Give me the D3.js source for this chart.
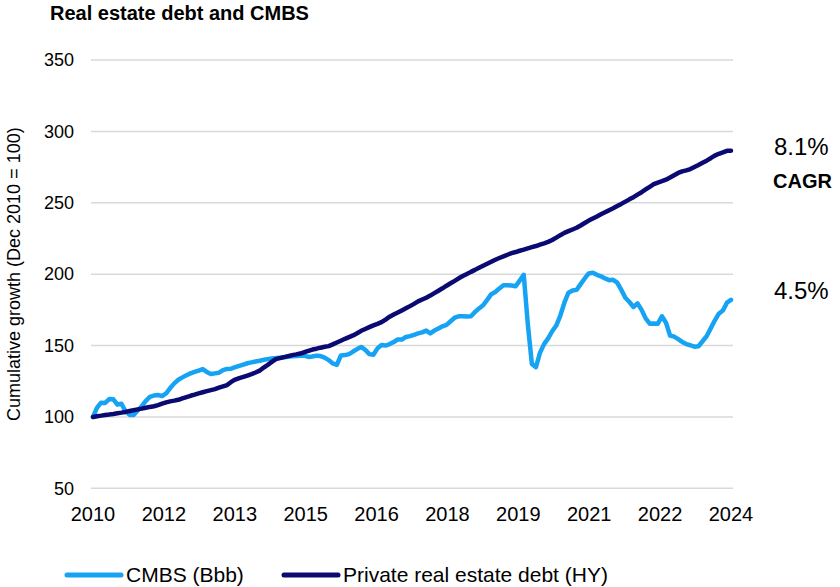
<!DOCTYPE html>
<html>
<head>
<meta charset="utf-8">
<script src="https://cdn.jsdelivr.net/npm/d3@7"></script>
<style>
  body { margin: 0; background: #fff; }
  svg text { font-family: "Liberation Sans", Arial, sans-serif; fill: #000; }
</style>
</head>
<body>
<div id="chart"></div>
<script>
// Month index since Dec 2010 (0..157), tick labels along the x axis
var tickLabels = ['2010', '2012', '2013', '2015', '2016', '2018', '2019', '2021', '2022', '2024'];
var yTicks     = [50, 100, 150, 200, 250, 300, 350];

var cmbs = [
  100, 106.5, 110, 109.8, 112.5, 112.3, 108.7, 109.2, 104, 101.4,
  101.4, 104.5, 107.5, 111.3, 114, 115, 115.4, 114.6, 116.5, 120.2,
  123.5, 126, 127.7, 129.2, 130.5, 131.5, 132.5, 133.5, 131.5, 130,
  130.5, 131, 132.8, 133.6, 133.8, 134.8, 135.8, 136.7, 137.6, 138.2,
  138.8, 139.3, 140, 140.5, 141, 141.2, 141.5, 141.8, 142.2, 142.5,
  142.6, 142.9, 142.9, 142, 142.3, 142.9, 142.6, 141.5, 139.8, 137.5,
  136.5, 143, 143.3, 144, 145.8, 147.5, 149, 147, 144, 143.5,
  148, 150.4, 150, 151, 152.5, 154.2, 154.2, 156, 156.6, 157.5,
  158.5, 159.2, 160.5, 158.5, 160.5, 162, 163.5, 164.5, 167, 169.5,
  170.5, 170.5, 170.3, 170.5, 173.5, 176, 178.2, 182, 186, 187.5,
  190, 192.3, 192.2, 192, 191.5, 195.5, 199.5, 165, 137, 134.8,
  145, 151, 155, 160, 164, 171, 180, 187, 188.5, 189,
  193, 197, 200.5, 201, 199.5, 198.5, 197, 195.8, 196, 194,
  189, 183.5, 180.5, 177, 179.5, 175, 169, 165.3, 165.5, 165.3,
  170.5, 166, 157, 156.2, 154.5, 152.5, 151, 150.2, 149.2, 149.5,
  153, 156.5, 162, 167.5, 172.3, 174.5, 180, 182
];

var privateDebt = [
  100, 100.5, 100.9, 101.4, 101.7, 102.1, 102.6, 103, 103.5, 104.1,
  104.7, 105.3, 105.8, 106.4, 107, 107.5, 108.3, 109.3, 110.2, 110.9,
  111.4, 112, 113, 113.9, 114.8, 115.6, 116.5, 117.3, 118.1, 118.8,
  119.5, 120.5, 121.4, 122.3, 124.5, 126.2, 127.2, 128, 129, 130,
  131.1, 132.4, 134.6, 136.5, 138.5, 140.5, 141.2, 141.9, 142.6, 143.3,
  143.8, 144.4, 145.3, 146.3, 147.2, 147.8, 148.5, 149.1, 149.6, 150.8,
  152.1, 153.4, 154.7, 155.9, 157.1, 158.6, 160.3, 161.6, 162.9, 164.1,
  165.2, 166.4, 168.2, 170.2, 171.7, 173.1, 174.6, 176.1, 177.6, 179.2,
  180.9, 182.2, 183.5, 185, 186.7, 188.4, 190.1, 191.9, 193.6, 195.3,
  197.1, 198.7, 200.1, 201.6, 203, 204.5, 205.9, 207.3, 208.7, 210.1,
  211.3, 212.4, 213.6, 214.7, 215.5, 216.4, 217.2, 218.1, 218.9, 219.7,
  220.7, 221.6, 222.6, 223.9, 225.6, 227.3, 228.9, 230.1, 231.3, 232.5,
  234.1, 235.8, 237.5, 239, 240.4, 241.9, 243.3, 244.8, 246.2, 247.7,
  249.2, 250.8, 252.4, 253.9, 255.7, 257.4, 259.3, 261.2, 263, 264.1,
  265.1, 266.2, 267.7, 269.3, 270.9, 272, 272.7, 273.6, 275.1, 276.5,
  278, 279.5, 281.2, 283, 284.3, 285.3, 286.4, 286.5
];

var seriesNames  = ['CMBS (Bbb)', 'Private real estate debt (HY)'];
var seriesColors = ['#17a3f3', '#0a0a72'];

var width = 840, height = 587;

var svg = d3.select('#chart').append('svg')
    .attr('width', width)
    .attr('height', height);

var x = d3.scaleLinear().domain([0, cmbs.length - 1]).range([93, 731]);
var y = d3.scaleLinear().domain([50, 350]).range([488.3, 60]);

// title
svg.append('text')
    .attr('x', 50).attr('y', 20)
    .style('font-size', '20px').style('font-weight', 'bold')
    .text('Real estate debt and CMBS');

// horizontal grid lines
svg.append('g').selectAll('line')
    .data(yTicks).join('line')
    .attr('x1', 91).attr('x2', 733)
    .attr('y1', d => y(d)).attr('y2', d => y(d))
    .attr('stroke', '#d9d9d9').attr('stroke-width', 1.5);

// y tick labels
svg.append('g').selectAll('text')
    .data(yTicks).join('text')
    .attr('x', 74).attr('y', d => y(d))
    .attr('dy', '0.35em')
    .style('text-anchor', 'end')
    .style('font-size', '18px')
    .text(d => d);

// x tick labels, evenly spread over the months
var lastIdx = cmbs.length - 1;
svg.append('g').selectAll('text')
    .data(tickLabels).join('text')
    .attr('x', (d, i) => x(i * lastIdx / (tickLabels.length - 1)))
    .attr('y', 514).attr('dy', '0.35em')
    .style('text-anchor', 'middle')
    .style('font-size', '20px')
    .text(d => d);

// y axis title
svg.append('text')
    .attr('transform', 'translate(20,' + y(200) + ') rotate(-90)')
    .style('text-anchor', 'middle')
    .style('font-size', '18px')
    .text('Cumulative growth (Dec 2010 = 100)');

var line = d3.line()
    .x((d, i) => x(i))
    .y(d => y(d));

[cmbs, privateDebt].forEach(function(s, k) {
    svg.append('path')
        .datum(s)
        .attr('d', line)
        .attr('fill', 'none')
        .attr('stroke', seriesColors[k])
        .attr('stroke-width', 4.5)
        .attr('stroke-linejoin', 'round')
        .attr('stroke-linecap', 'round');
});

// annotations on the right
svg.append('text').attr('x', 774).attr('y', 155)
    .style('font-size', '24px').text('8.1%');
svg.append('text').attr('x', 773).attr('y', 188)
    .style('font-size', '20px').style('font-weight', 'bold').text('CAGR');
svg.append('text').attr('x', 774).attr('y', 299)
    .style('font-size', '24px').text('4.5%');

// legend
var legendX = [67, 284];
var legend = svg.append('g').selectAll('g')
    .data(seriesNames).join('g')
    .attr('transform', (d, i) => 'translate(' + legendX[i] + ',575)');
legend.append('line')
    .attr('x1', 0).attr('x2', 54)
    .attr('stroke', (d, i) => seriesColors[i])
    .attr('stroke-width', 5)
    .attr('stroke-linecap', 'round');
legend.append('text')
    .attr('x', 59).attr('dy', '0.35em')
    .style('font-size', '21px')
    .text(d => d);
</script>
</body>
</html>
